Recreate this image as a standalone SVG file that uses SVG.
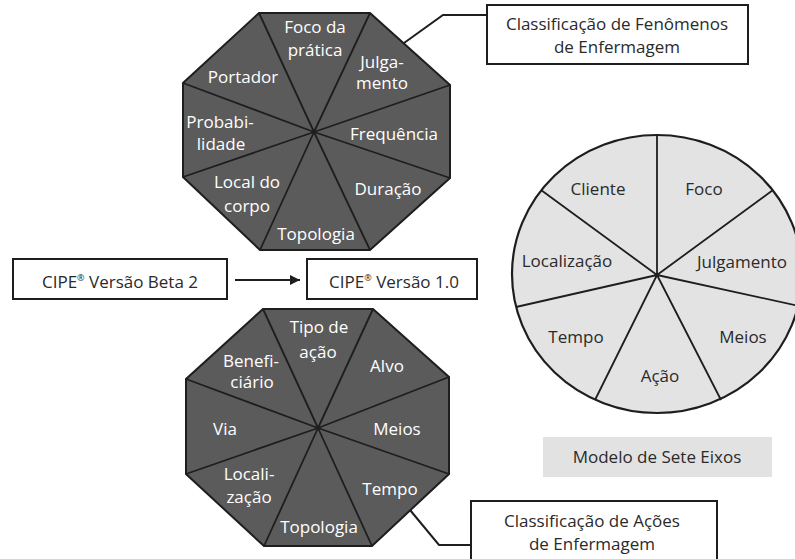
<svg xmlns="http://www.w3.org/2000/svg" width="795" height="559" viewBox="0 0 795 559">
<defs>
<style>
.oct{fill:#5b5b5b;stroke:#1e1e1e;stroke-width:2;stroke-linejoin:miter}
.sp{stroke:#1e1e1e;stroke-width:1.8;fill:none}
.wt{font-family:"Open Sans","Liberation Sans",sans-serif;font-size:17px;fill:#ffffff;text-anchor:middle}
.dk{font-family:"Open Sans","Liberation Sans",sans-serif;font-size:17px;fill:#2a2a2a;text-anchor:middle}
.box{fill:#ffffff;stroke:#1e1e1e;stroke-width:2}
.circ{fill:#e3e3e3;stroke:#1e1e1e;stroke-width:2.2}
.con{stroke:#1e1e1e;stroke-width:2;fill:none}
</style>
<marker id="ah" viewBox="0 0 10 10" refX="10" refY="5" markerWidth="13" markerHeight="10" markerUnits="userSpaceOnUse" orient="auto">
<path d="M0,0 L10,5 L0,10 z" fill="#1e1e1e"/>
</marker>
</defs>
<rect width="795" height="559" fill="#ffffff"/>

<g id="octagon-fenomenos">
<polygon class="oct" points="259,13 370,13 450,85 450,178 370,250 260,250 183,177 183,83"/>
<path class="sp" d="M314,132 L259,13 M314,132 L370,13 M314,132 L450,85 M314,132 L450,178 M314,132 L370,250 M314,132 L260,250 M314,132 L183,177 M314,132 L183,83"/>
<text class="wt" x="315" y="33">Foco da</text>
<text class="wt" x="315" y="56">prática</text>
<text class="wt" x="382" y="68">Julga-</text>
<text class="wt" x="382" y="89">mento</text>
<text class="wt" x="243" y="83">Portador</text>
<text class="wt" x="220" y="128">Probabi-</text>
<text class="wt" x="221" y="150">lidade</text>
<text class="wt" x="394" y="140">Frequência</text>
<text class="wt" x="247" y="188">Local do</text>
<text class="wt" x="247" y="212">corpo</text>
<text class="wt" x="388" y="195">Duração</text>
<text class="wt" x="316" y="240">Topologia</text>
</g>

<g id="octagon-acoes">
<polygon class="oct" points="263,309 373,309 449,377 449,474 372,546 264,546 186,474 186,379"/>
<path class="sp" d="M318,428 L263,309 M318,428 L373,309 M318,428 L449,377 M318,428 L449,474 M318,428 L372,546 M318,428 L264,546 M318,428 L186,474 M318,428 L186,379"/>
<text class="wt" x="319" y="333">Tipo de</text>
<text class="wt" x="318" y="358">ação</text>
<text class="wt" x="251" y="367">Benefi-</text>
<text class="wt" x="252" y="388">ciário</text>
<text class="wt" x="387" y="372">Alvo</text>
<text class="wt" x="225" y="435">Via</text>
<text class="wt" x="397" y="435">Meios</text>
<text class="wt" x="249" y="480">Locali-</text>
<text class="wt" x="249" y="503">zação</text>
<text class="wt" x="390" y="495">Tempo</text>
<text class="wt" x="319" y="533">Topologia</text>
</g>

<g id="modelo-sete-eixos">
<ellipse class="circ" cx="657" cy="274" rx="145" ry="139"/>
<path class="sp" d="M657,275 L657,135 M657,275 L773,190 M657,275 L799,306 M657,275 L721,400 M657,275 L595,400 M657,275 L516,307 M657,275 L541,190"/>
<text class="dk" x="598" y="195">Cliente</text>
<text class="dk" x="704" y="195">Foco</text>
<text class="dk" x="567" y="267">Localização</text>
<text class="dk" x="742" y="268">Julgamento</text>
<text class="dk" x="576" y="343">Tempo</text>
<text class="dk" x="743" y="343">Meios</text>
<text class="dk" x="660" y="382">Ação</text>
</g>

<g id="label-modelo">
<rect x="543" y="437" width="229" height="40" fill="#e2e2e2"/>
<text class="dk" x="657" y="463">Modelo de Sete Eixos</text>
</g>

<g id="box-beta">
<rect class="box" x="13" y="259" width="214" height="40"/>
<text class="dk" x="120" y="288">CIPE<tspan font-size="9" dy="-7">®</tspan><tspan dy="7"> Versão Beta 2</tspan></text>
</g>

<g id="box-v1">
<rect class="box" x="307" y="259" width="170" height="40"/>
<text class="dk" x="394" y="288">CIPE<tspan font-size="9" dy="-7">®</tspan><tspan dy="7"> Versão 1.0</tspan></text>
</g>

<g id="box-fenomenos">
<rect class="box" x="487" y="5" width="261" height="59"/>
<text class="dk" x="617" y="30">Classificação de Fenômenos</text>
<text class="dk" x="617" y="53">de Enfermagem</text>
</g>

<g id="box-acoes">
<rect class="box" x="471" y="501" width="246" height="70"/>
<text class="dk" x="592" y="527">Classificação de Ações</text>
<text class="dk" x="592" y="550">de Enfermagem</text>
</g>

<g id="connectors">
<line class="con" x1="235" y1="280" x2="300" y2="280" marker-end="url(#ah)"/>
<polyline class="con" points="404,43 443,15 487,15"/>
<polyline class="con" points="410,510 439,545 471,545"/>
</g>
</svg>
